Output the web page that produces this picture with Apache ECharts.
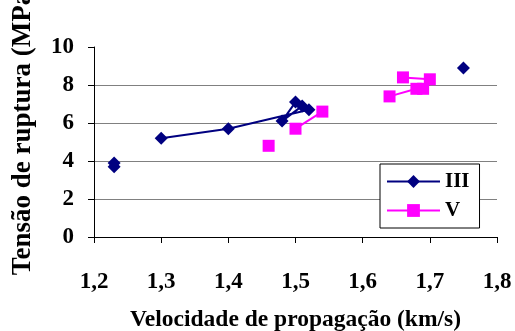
<!DOCTYPE html>
<html>
<head>
<meta charset="utf-8">
<script src="https://cdn.jsdelivr.net/npm/echarts@6/dist/echarts.min.js"></script>
<style>
html,body{margin:0;padding:0;background:#fff;}
#grafico{width:515px;height:331px;}
</style>
</head>
<body>
<div id="grafico"></div>
<script>
// pontos da serie III (segmentos separados = celulas vazias no excel)
var serieIII_a = [[1.23, 3.9], [1.23, 3.7]];
var serieIII_b = [[1.3, 5.2], [1.4, 5.7], [1.52, 6.7], [1.51, 6.9], [1.48, 6.1], [1.5, 7.1]];
var serieIII_c = [[1.75, 8.9]];
// pontos da serie V
var serieV_a = [[1.46, 4.8]];
var serieV_b = [[1.5, 5.7], [1.54, 6.6]];
var serieV_c = [[1.64, 7.4], [1.68, 7.8], [1.69, 7.8], [1.7, 8.3], [1.66, 8.4]];

var xTicks = [1.2, 1.3, 1.4, 1.5, 1.6, 1.7, 1.8];
var yTicks = [0, 2, 4, 6, 8, 10];

var fonte = 'Liberation Serif';

function linha(nome, dados, cor, simbolo, tam) {
	return {
		name: nome,
		type: 'line',
		data: dados,
		symbol: simbolo,
		symbolSize: tam,
		showAllSymbol: true,
		itemStyle: {color: cor},
		lineStyle: {color: cor, width: 2},
		animation: false
	};
}

var series = [];
[serieIII_a, serieIII_b, serieIII_c].forEach(function(d){
	series.push(linha('III', d, '#000080', 'diamond', 13));
});
[serieV_a, serieV_b, serieV_c].forEach(function(d){
	series.push(linha('V', d, '#FF00FF', 'rect', 12));
});

var myChart = echarts.init(document.getElementById('grafico'));
var option = {
	backgroundColor: '#fff',
	textStyle: {fontFamily: fonte},
	grid: {left: 94, right: 18, top: 47, bottom: 94, containLabel: false, outerBoundsMode: 'none'},
	legend: {
		data: ['III', 'V'],
		orient: 'vertical',
		left: 380,
		top: 164,
		width: 96,
		backgroundColor: '#fff',
		borderColor: '#000',
		borderWidth: 1,
		borderRadius: 0,
		padding: [7, 10, 7, 6],
		itemWidth: 53,
		itemHeight: 16,
		itemGap: 8,
		textStyle: {fontFamily: fonte, fontWeight: 'bold', fontSize: 21, color: '#000'}
	},
	xAxis: {
		type: 'value',
		min: xTicks[0],
		max: xTicks[xTicks.length - 1],
		interval: 0.1,
		name: 'Velocidade de propagação (km/s)',
		nameLocation: 'middle',
		nameGap: 71,
		nameTextStyle: {fontFamily: fonte, fontWeight: 'bold', fontSize: 23.5, color: '#000'},
		axisLine: {lineStyle: {color: '#000', width: 1}},
		axisTick: {show: true, length: 6, lineStyle: {color: '#000'}},
		axisLabel: {
			margin: 34,
			fontFamily: fonte, fontWeight: 'bold', fontSize: 23, color: '#000',
			formatter: function(v){ return v.toFixed(1).replace('.', ','); }
		},
		splitLine: {show: false}
	},
	yAxis: {
		type: 'value',
		min: yTicks[0],
		max: yTicks[yTicks.length - 1],
		interval: 2,
		name: 'Tensão de ruptura (MPa)',
		nameLocation: 'middle',
		nameGap: 57,
		nameTextStyle: {fontFamily: fonte, fontWeight: 'bold', fontSize: 27, color: '#000', padding: [0, 0, 0, 26]},
		axisLine: {show: true, lineStyle: {color: '#000', width: 1}},
		axisTick: {show: true, length: 6, lineStyle: {color: '#000'}},
		axisLabel: {margin: 20, fontFamily: fonte, fontWeight: 'bold', fontSize: 23, color: '#000'},
		splitLine: {show: true, lineStyle: {color: ['#000', '#808080', '#808080', '#808080', '#808080', 'rgba(0,0,0,0)'], width: 1}}
	},
	series: series
};
myChart.setOption(option);
</script>
</body>
</html>
